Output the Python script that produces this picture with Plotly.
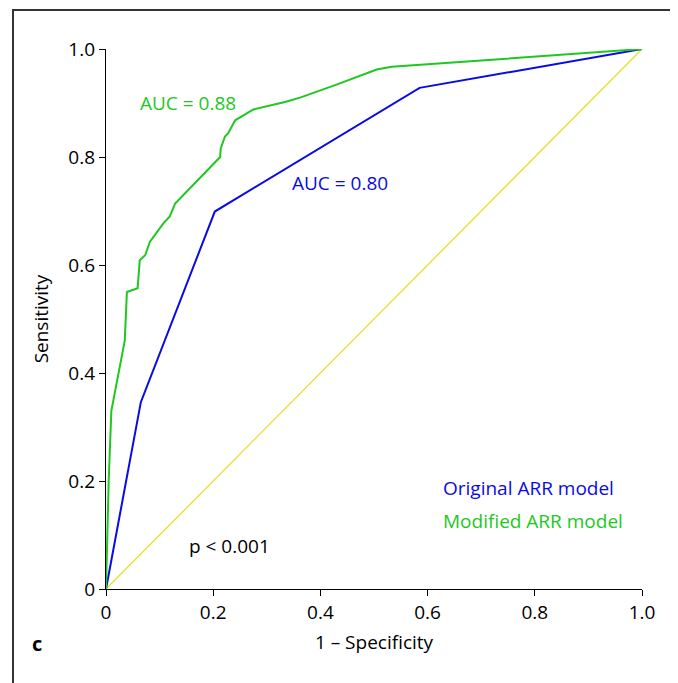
import plotly.graph_objects as go

# Modified ARR model (green)
mod_fpr = [0, 0.005, 0.01, 0.03, 0.035, 0.039, 0.059, 0.063, 0.073, 0.082, 0.107, 0.119, 0.129,
           0.213, 0.214, 0.222, 0.228, 0.241, 0.275, 0.334, 0.362, 0.43, 0.505, 0.533, 1.0]
mod_tpr = [0, 0.2, 0.33, 0.43, 0.46, 0.55, 0.557, 0.609, 0.618, 0.643, 0.677, 0.69, 0.714,
           0.80, 0.816, 0.838, 0.844, 0.868, 0.888, 0.902, 0.91, 0.934, 0.962, 0.967, 1.0]
# Original ARR model (blue)
orig_fpr = [0, 0.065, 0.203, 0.585, 1.0]
orig_tpr = [0, 0.346, 0.699, 0.928, 1.0]
# Reference line
ref_x = [0, 1]
ref_y = [0, 1]

tick_vals = [0, 0.2, 0.4, 0.6, 0.8, 1.0]
tick_text = ["0", "0.2", "0.4", "0.6", "0.8", "1.0"]

GREEN = "#1ec81e"
BLUE = "#0a0ae6"
YELLOW = "#e2e22a"
FONT = "Open Sans"
FS = 19

fig = go.Figure()
fig.add_trace(go.Scatter(x=ref_x, y=ref_y, mode="lines", line=dict(color=YELLOW, width=1.3),
                         showlegend=False, hoverinfo="skip"))
fig.add_trace(go.Scatter(x=orig_fpr, y=orig_tpr, mode="lines", line=dict(color=BLUE, width=2),
                         name="Original ARR model", showlegend=False))
fig.add_trace(go.Scatter(x=mod_fpr, y=mod_tpr, mode="lines", line=dict(color=GREEN, width=2),
                         name="Modified ARR model", showlegend=False))

annots = [
    dict(x=0.153, y=0.90, text="AUC = 0.88", color=GREEN, xanchor="center"),
    dict(x=0.437, y=0.752, text="AUC = 0.80", color=BLUE, xanchor="center"),
    dict(x=0.625, y=0.187, text="Original ARR model", color=BLUE, xanchor="left"),
    dict(x=0.625, y=0.126, text="Modified ARR model", color=GREEN, xanchor="left"),
    dict(x=0.151, y=0.08, text="p < 0.001", color="black", xanchor="left"),
]
for a in annots:
    fig.add_annotation(x=a["x"], y=a["y"], xref="x", yref="y", text=a["text"], showarrow=False,
                       xanchor=a["xanchor"], yanchor="middle",
                       font=dict(family=FONT, size=FS, color=a["color"]))

fig.add_annotation(x=-0.128, y=-0.1, xref="paper", yref="paper", text="<b>c</b>", showarrow=False,
                   xanchor="center", yanchor="middle", font=dict(family=FONT, size=20, color="black"))

# outer frame
fig.add_shape(type="rect", xref="paper", yref="paper", x0=-0.1735, x1=1.0597, y0=-0.2, y1=1.0722,
              line=dict(color="#333333", width=2), fillcolor="rgba(0,0,0,0)", layer="below")

fig.update_xaxes(range=[0, 1.0], tickvals=tick_vals, ticktext=tick_text, showgrid=False, zeroline=False,
                 showline=True, linecolor="black", linewidth=1.3, ticks="outside", ticklen=6,
                 tickcolor="black", tickfont=dict(family=FONT, size=FS, color="black"),
                 title=dict(text="1 – Specificity", font=dict(family=FONT, size=FS, color="black"), standoff=11))
fig.update_yaxes(range=[0, 1.0], tickvals=tick_vals, ticktext=tick_text, showgrid=False, zeroline=False,
                 showline=True, linecolor="black", linewidth=1.3, ticks="outside", ticklen=6,
                 tickcolor="black", tickfont=dict(family=FONT, size=FS, color="black"),
                 title=dict(text="Sensitivity", font=dict(family=FONT, size=FS, color="black"), standoff=14))

fig.update_layout(width=670, height=675, plot_bgcolor="white", paper_bgcolor="white",
                  margin=dict(l=98, r=36, t=41, b=94, autoexpand=False),
                  font=dict(family=FONT))

fig.write_html("out.html")
